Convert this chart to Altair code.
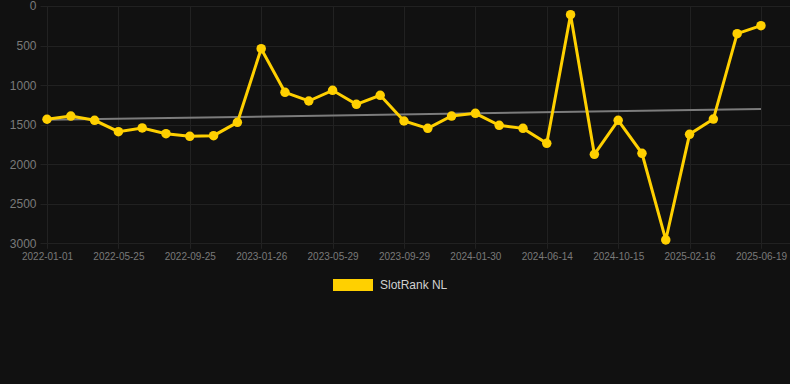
import altair as alt
import pandas as pd

ranks = [1432, 1391, 1445, 1589, 1542, 1614, 1648, 1639, 1471, 540,
         1091, 1201, 1066, 1243, 1129, 1454, 1547, 1391, 1357, 1509,
         1547, 1736, 110, 1875, 1445, 1862, 2958, 1622, 1429, 350, 249]
tick_labels = ["2022-01-01", "2022-05-25", "2022-09-25", "2023-01-26", "2023-05-29",
               "2023-09-29", "2024-01-30", "2024-06-14", "2024-10-15", "2025-02-16",
               "2025-06-19"]
series_name = "SlotRank NL"

df = pd.DataFrame({"idx": list(range(len(ranks))), "rank": ranks, "series": series_name})

FONT = "Liberation Sans"
GOLD = "#FFD000"
GRID = "#222222"
LABEL = "#7a7a7a"

label_expr = "[" + ",".join(f"'{t}'" for t in tick_labels) + "][round(datum.value/3)]"

x = alt.X("idx:Q",
          scale=alt.Scale(domain=[-0.294, 31.22], nice=False, zero=False),
          axis=alt.Axis(values=list(range(0, len(ranks), 3)), labelExpr=label_expr,
                        title=None, grid=True, gridColor=GRID, domain=False,
                        ticks=True, tickColor=GRID, tickSize=5,
                        labelColor=LABEL, labelFontSize=10, labelFont=FONT,
                        labelPadding=3))
y = alt.Y("rank:Q",
          scale=alt.Scale(domain=[0, 3000], reverse=True, nice=False),
          axis=alt.Axis(values=[0, 500, 1000, 1500, 2000, 2500, 3000], title=None,
                        format="d",
                        grid=True, gridColor=GRID, domain=False, ticks=False,
                        labelColor=LABEL, labelFontSize=12, labelFont=FONT,
                        labelPadding=4))

base = alt.Chart(df)

trend = base.transform_regression("idx", "rank").mark_line(
    color="#7c7c7c", strokeWidth=2).encode(x=x, y=y)

line = base.mark_line(color=GOLD, strokeWidth=3).encode(x=x, y=y)

points = base.mark_circle(size=90, opacity=1).encode(
    x=x, y=y,
    color=alt.Color("series:N", scale=alt.Scale(range=[GOLD]),
                    legend=alt.Legend(title=None, orient="none", legendX=293, legendY=259,
                                      direction="horizontal",
                                      symbolType="M-1,-0.3L1,-0.3L1,0.3L-1,0.3Z",
                                      symbolSize=1600, symbolStrokeWidth=0,
                                      symbolOpacity=1,
                                      labelColor="#d0d0d0", labelFontSize=12,
                                      labelFont=FONT, labelOffset=7)))

chart = alt.layer(trend, line, points).properties(
    width=750, height=237.3,
    background="#111111",
    padding={"left": 40, "top": 6, "right": 0, "bottom": 141},
    autosize=alt.AutoSizeParams(type="none"),
).configure_view(stroke=None)

chart.save("out.html", embed_options={"renderer": "svg", "actions": False})
